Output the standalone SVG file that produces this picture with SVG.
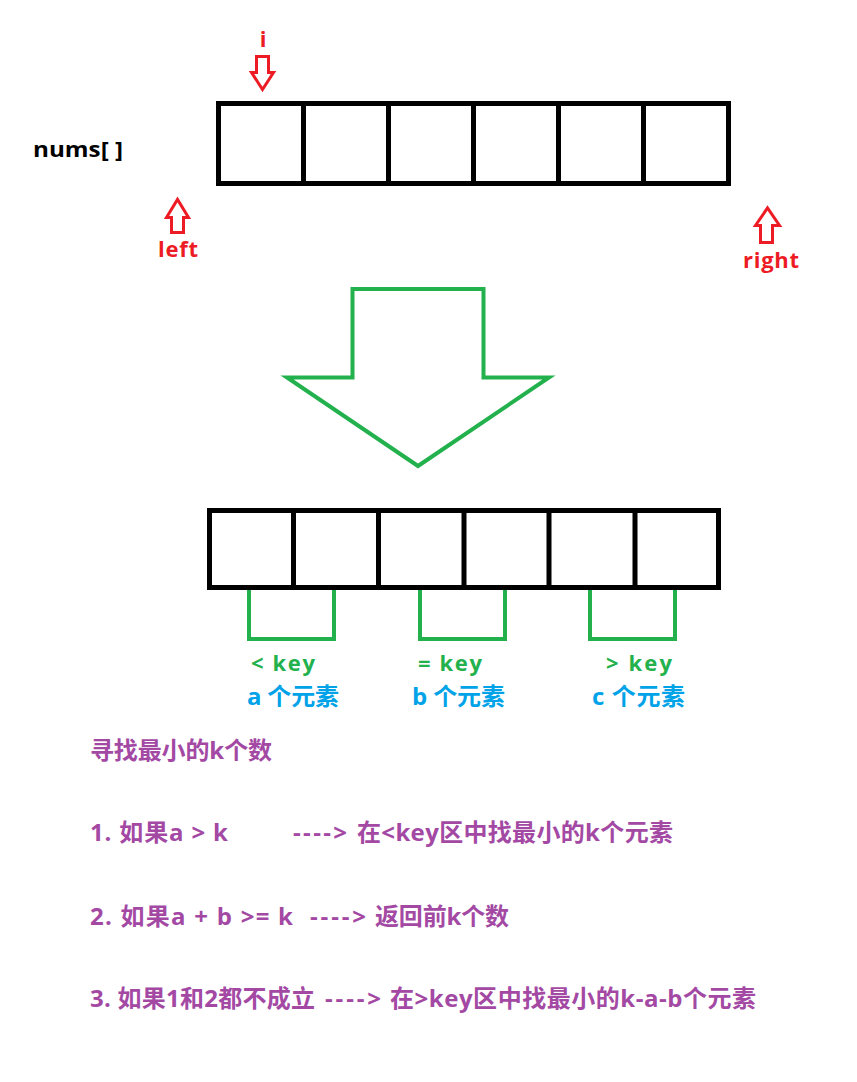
<svg xmlns="http://www.w3.org/2000/svg" width="857" height="1082" viewBox="0 0 857 1082">
<style>
text{font-family:"Open Sans","Noto Sans CJK SC",sans-serif;font-weight:bold}
.arr{fill:none;stroke:#000;stroke-width:5}
.red{fill:none;stroke:#ed1c24;stroke-width:3;stroke-linejoin:miter}
.grn{fill:none;stroke:#22b14c;stroke-width:4}
.rt{fill:#ed1c24;font-size:22px}
.gt{fill:#22b14c;font-size:22px}
.bt{fill:#00a2e8;font-size:24px}
.pt{fill:#a349a4;font-size:24px}
</style>
<rect width="857" height="1082" fill="#fff"/>
<g id="label-nums"><text x="33" y="157" font-size="22" fill="#000" textLength="90" lengthAdjust="spacingAndGlyphs">nums[ ]</text></g>
<g id="array-top">
<rect class="arr" x="218.5" y="103.5" width="510" height="80"/>
<path class="arr" d="M303.5 103.5V183.5M388.5 103.5V183.5M473.5 103.5V183.5M558.5 103.5V183.5M643.5 103.5V183.5"/>
</g>
<g id="pointer-i">
<text class="rt" x="263" y="47" text-anchor="middle">i</text>
<polygon class="red" points="256.5,56.5 268.5,56.5 268.5,72.5 273.5,72.5 262.5,89.5 251.5,72.5 256.5,72.5"/>
</g>
<g id="pointer-left">
<polygon class="red" points="171.5,232.5 183.5,232.5 183.5,217.5 188.5,217.5 177.5,199.5 166.5,217.5 171.5,217.5"/>
<text class="rt" x="158" y="257" textLength="40">left</text>
</g>
<g id="pointer-right">
<polygon class="red" points="760.5,242.5 772.5,242.5 772.5,225.5 779.5,225.5 767.5,208 755.5,225.5 760.5,225.5"/>
<text class="rt" x="743" y="268" textLength="56">right</text>
</g>
<g id="big-arrow">
<polygon class="grn" points="352.5,289 483.5,289 483.5,377.5 549,377.5 418,466 287,377.5 352.5,377.5"/>
</g>
<g id="array-bottom">
<rect class="arr" x="209.5" y="510.5" width="509" height="77"/>
<path class="arr" d="M293.5 510.5V587.5M378.5 510.5V587.5M464 510.5V587.5M549 510.5V587.5M635 510.5V587.5"/>
</g>
<g id="connectors">
<path class="grn" d="M249 590V639H334V590"/>
<path class="grn" d="M420 590V639H505V590"/>
<path class="grn" d="M590 590V639H675V590"/>
</g>
<g id="group-less">
<text class="gt" x="251" y="671" textLength="64">&lt;  key</text>
<text class="bt" x="247" y="705" textLength="92">a 个元素</text>
</g>
<g id="group-equal">
<text class="gt" x="418" y="671" textLength="64">=  key</text>
<text class="bt" x="412" y="705" textLength="93">b 个元素</text>
</g>
<g id="group-greater">
<text class="gt" x="606" y="671" textLength="66">&gt;  key</text>
<text class="bt" x="592" y="705" textLength="93">c 个元素</text>
</g>
<g id="notes">
<text class="pt" x="90" y="759" textLength="182">寻找最小的k个数</text>
<text class="pt" y="841"><tspan x="90" textLength="138">1. 如果a &gt; k</tspan><tspan x="293" textLength="54">----&gt;</tspan><tspan x="357" textLength="316">在&lt;key区中找最小的k个元素</tspan></text>
<text class="pt" y="925"><tspan x="90" textLength="203">2. 如果a + b &gt;= k</tspan><tspan x="310" textLength="56">----&gt;</tspan><tspan x="375" textLength="134">返回前k个数</tspan></text>
<text class="pt" y="1007"><tspan x="90" textLength="225">3. 如果1和2都不成立</tspan><tspan x="325" textLength="56">----&gt;</tspan><tspan x="390" textLength="366">在&gt;key区中找最小的k-a-b个元素</tspan></text>
</g>
</svg>
